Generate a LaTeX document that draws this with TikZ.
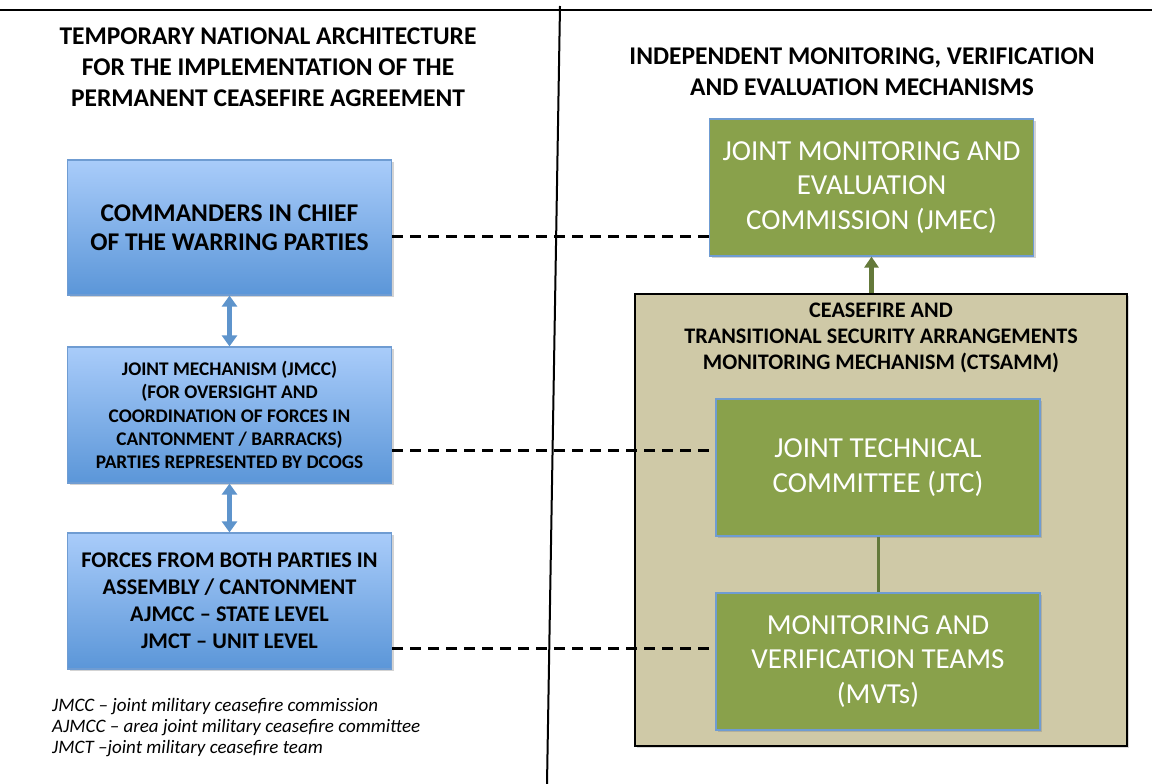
\documentclass[tikz,border=0pt]{standalone}
\usepackage{fontspec}
\setmainfont{Carlito}
\usepackage{tikz}
\usetikzlibrary{arrows.meta,shadows}

\definecolor{bluetop}{HTML}{A9CCFA}
\definecolor{bluebot}{HTML}{5B96D8}
\definecolor{boxedge}{HTML}{6F9CD2}
\definecolor{bluearrow}{HTML}{5E94CC}
\definecolor{jointgreen}{HTML}{89A14B}
\definecolor{greenarrow}{HTML}{64793A}
\definecolor{tanfill}{HTML}{CFC9A7}

\begin{document}
\begin{tikzpicture}[x=1pt,y=-1pt]
        \tikzstyle{bluebox}=[draw=boxedge,line width=1.2pt,top color=bluetop,bottom color=bluebot,minimum width=324pt,minimum height=135pt,inner sep=0pt,align=center,drop shadow={shadow xshift=2pt,shadow yshift=-2pt,opacity=.35}]
        \tikzstyle{greenbox}=[draw=boxedge,line width=1.2pt,fill=jointgreen,text=white,minimum width=324pt,minimum height=137pt,inner sep=0pt,align=center,font=\fontsize{29}{34.5}\selectfont,drop shadow={shadow xshift=2pt,shadow yshift=-2pt,opacity=.35}]
        \tikzstyle{heading}=[align=center,font=\bfseries\fontsize{25.5}{31}\selectfont]
        \tikzstyle{dashline}=[line width=3pt,dash pattern=on 11pt off 7pt]
        \tikzstyle{twoway}=[line width=5pt,draw=bluearrow,{Triangle[width=15pt,length=11pt]}-{Triangle[width=15pt,length=11pt]}]

        \useasboundingbox (0,0) rectangle (1152,784);

        % frame lines
        \draw[line width=2pt] (0,10) -- (1152,10);
        \draw[line width=2pt] (560,6) -- (547,784);

        % headings
        \node[heading] (lefthead) at (268,67) {TEMPORARY NATIONAL ARCHITECTURE\\FOR THE IMPLEMENTATION OF THE\\PERMANENT CEASEFIRE AGREEMENT};
        \node[heading] (righthead) at (862,72) {INDEPENDENT MONITORING, VERIFICATION\\AND EVALUATION MECHANISMS};

        % left column
        \node[bluebox,font=\bfseries\fontsize{25.5}{28.5}\selectfont] (cinc) at (229.5,227.5) {COMMANDERS IN CHIEF\\OF THE WARRING PARTIES};
        \node[bluebox,minimum height=136pt,font=\bfseries\fontsize{19.3}{23.3}\selectfont] (jmcc) at (229.5,415) {JOINT MECHANISM (JMCC)\\(FOR OVERSIGHT AND\\COORDINATION OF FORCES IN\\CANTONMENT / BARRACKS)\\PARTIES REPRESENTED BY DCOGS};
        \node[bluebox,minimum height=136pt,font=\bfseries\fontsize{22.4}{27}\selectfont] (forces) at (229.5,601) {FORCES FROM BOTH PARTIES IN\\ASSEMBLY / CANTONMENT\\AJMCC -- STATE LEVEL\\JMCT -- UNIT LEVEL};

        \foreach \from/\to in {cinc/jmcc, jmcc/forces}
                \draw[twoway] (\from.south) -- (\to.north);

        \node[anchor=north west,align=left,font=\itshape\fontsize{19}{21.2}\selectfont,inner sep=0pt] (legend) at (52,698) {JMCC -- joint military ceasefire commission\\AJMCC -- area joint military ceasefire committee\\JMCT --joint military ceasefire team};

        % right column
        \node[draw=black,line width=2pt,fill=tanfill,minimum width=492pt,minimum height=452pt,inner sep=0pt,drop shadow={shadow xshift=2pt,shadow yshift=-2pt,opacity=.3}] (ctsamm) at (881,520) {};
        \node[align=center,font=\bfseries\fontsize{22.2}{26}\selectfont] (ctsammhead) at (881,338) {CEASEFIRE AND\\TRANSITIONAL SECURITY ARRANGEMENTS\\MONITORING MECHANISM (CTSAMM)};
        \node[greenbox] (jmec) at (871.5,187.5) {JOINT MONITORING AND\\EVALUATION\\COMMISSION (JMEC)};
        \node[greenbox] (jtc) at (878,467.5) {JOINT TECHNICAL\\COMMITTEE (JTC)};
        \node[greenbox] (mvt) at (878,661.5) {MONITORING AND\\VERIFICATION TEAMS\\(MVTs)};

        \draw[line width=5pt,draw=greenarrow,-{Triangle[width=14pt,length=11pt]}] (jmec.south |- ctsamm.north) -- (jmec.south);
        \draw[line width=3pt,draw=greenarrow] (jtc.south) -- (mvt.north);

        % dashed links
        \foreach \left/\right/\y in {cinc/jmec/236, jmcc/jtc/450, forces/mvt/648}
                \draw[dashline] (\left.east |- 0,\y) -- (\right.west |- 0,\y);
\end{tikzpicture}
\end{document}
